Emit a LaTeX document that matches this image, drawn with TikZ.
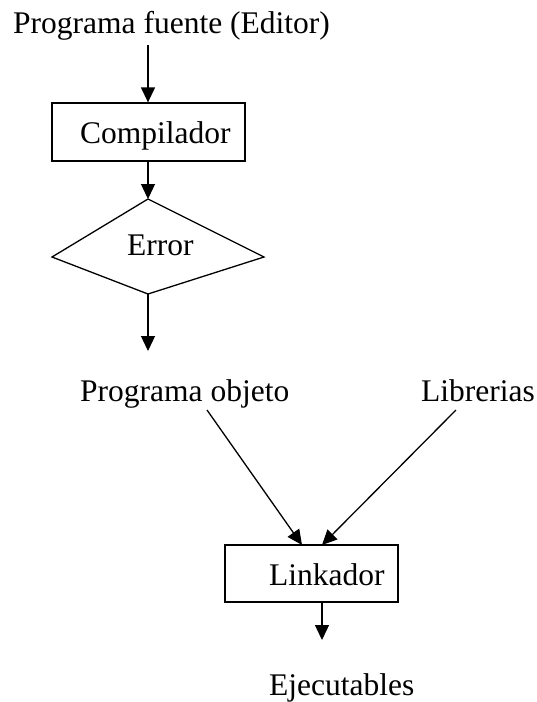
\documentclass[tikz,border=0pt]{standalone}
\usepackage{fontspec}
\setmainfont{Liberation Serif}
\usetikzlibrary{arrows.meta}
\begin{document}
\begin{tikzpicture}[x=1pt,y=-1pt,
  lbl/.style={inner sep=0pt,anchor=base west,font=\fontsize{31.5}{38}\selectfont},
  boxnode/.style={draw,line width=1.3pt,inner sep=0pt},
  arr/.style={line width=1.3pt,-{Triangle[length=15pt,width=14pt]}},
  ln/.style={line width=1.3pt}]
\useasboundingbox (0,0) rectangle (537,702);
% texts
\node[lbl] (title) at (13,33) {Programa fuente (Editor)};
\node[boxnode,minimum width=193pt,minimum height=58pt] (cbox) at (148.5,132) {};
\node[lbl] (ctext) at (80,143) {Compilador};
% diamond
\coordinate (dT) at (148,199);
\coordinate (dR) at (264,257);
\coordinate (dB) at (148,294);
\coordinate (dL) at (52,257);
\draw[ln,line join=miter] (dT) -- (dR) -- (dB) -- (dL) -- cycle;
\node[lbl] (etext) at (127,255) {Error};
\coordinate (d3end) at (148,351);
\node[lbl] (pobj) at (80,401) {Programa objeto};
\node[lbl] (lib) at (421,401) {Librerias};
\node[boxnode,minimum width=173pt,minimum height=57pt] (lbox) at (311.5,573.5) {};
\node[lbl] (ltext) at (269,585) {Linkador};
\coordinate (lend) at (322,640);
\node[lbl] (ejec) at (269,695) {Ejecutables};
% connectors
\coordinate (t0) at (148,45);
\draw[arr] (t0) -- (cbox.north -| t0);
\draw[arr] (cbox.south -| dT) -- (dT);
\draw[arr] (dB) -- (d3end);
\coordinate (p0) at (207,410);
\coordinate (p1) at (302,545);
\coordinate (q0) at (456,410);
\coordinate (q1) at (322,545);
\draw[arr] (p0) -- (p1);
\draw[arr] (q0) -- (q1);
\draw[arr] (lbox.south -| lend) -- (lend);
\end{tikzpicture}
\end{document}
